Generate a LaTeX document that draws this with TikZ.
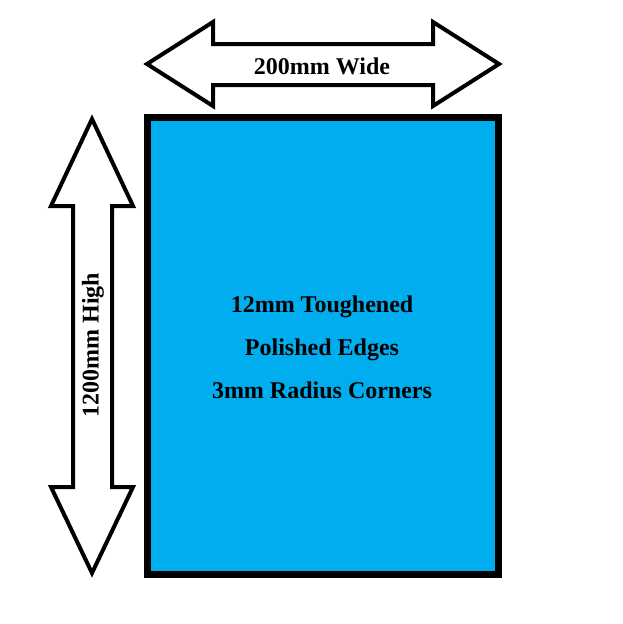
\documentclass[tikz,border=0pt]{standalone}
\usepackage{fontspec}
\setmainfont{Liberation Serif}
\usepackage{tikz}

\definecolor{glass}{RGB}{0,174,239}

\begin{document}
\begin{tikzpicture}[x=1pt,y=-1pt]
	\useasboundingbox (0,0) rectangle (623,624);
	\tikzset{
		dimarrow/.style={draw=black,line width=4pt,fill=white,line join=miter},
		dimtext/.style={font=\fontsize{24}{29}\selectfont\bfseries,inner sep=0pt}
	}
	% Define the corners of the panel
	\coordinate (P1) at (147.5,117.5);
	\coordinate (P2) at (498.5,574.5);
	
	% Draw the glass panel
	\draw[line width=7pt,fill=glass] (P1) rectangle (P2);
	
	% Draw the width arrow
	\draw[dimarrow] (147,64) -- (213,22) -- (213,44) -- (433,44) -- (433,22) -- (499,64)
		-- (433,106) -- (433,85) -- (213,85) -- (213,106) -- cycle;
	\node[dimtext] (wide) at (322,66) {200mm Wide};
	
	% Draw the height arrow
	\draw[dimarrow] (92,119) -- (133,206) -- (112,206) -- (112,487) -- (133,487) -- (92,573)
		-- (51,487) -- (73,487) -- (73,206) -- (51,206) -- cycle;
	\node[dimtext,rotate=90] (high) at (93,345) {1200mm High};
	
	% Write the specification
	\node[dimtext,align=center,font=\fontsize{24}{43}\selectfont\bfseries] (spec) at (322,347)
		{12mm Toughened\\Polished Edges\\3mm Radius Corners};
\end{tikzpicture}
\end{document}
